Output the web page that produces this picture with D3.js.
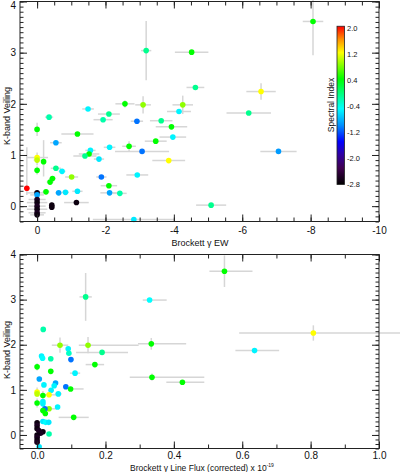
<!DOCTYPE html>
<html>
<head>
<meta charset="utf-8">
<script src="https://cdn.jsdelivr.net/npm/d3@7"></script>
<style>
body { margin: 0; background: #fff; }
svg { display: block; font-family: "Liberation Sans", Arial, sans-serif; }
</style>
</head>
<body>
<svg id="chart" width="400" height="472"></svg>
<script>
// ---- top panel: Brackett gamma EW vs veiling ----
// an error given as [a, b] means [towards smaller value, towards larger value]
const ewX = [-8.07, -3.19, -4.52, -4.63, -6.55, -2.57, -3.10, -4.26, -4.15, -1.49,
             -2.10, -6.19, -1.93, -0.35, -2.92, -3.63, 0.00, -3.93, -1.18, -3.97,
             -3.47, -0.55, -2.69, -2.12, -1.56, -1.52, -1.40, -3.07, -7.06, -1.81,
             0.00, 0.00, -0.19, -3.85, 0.00, -0.55, -0.73, -2.93, -1.01, -1.88,
             -0.45, -0.38, -2.10, 0.30, -0.26, -0.63, -0.83, -1.18, -2.12, -2.42,
             -5.09, -2.83, -1.15, -0.43, -0.43, 0.00, 0.00, 0.00, 0.00, 0.00,
             0.00, 0.00, 0.00];
const ewXErr = [0.30, 0.15, 0.49, 0.26, 0.43, 0.28, 0.23, 0.30, 0.35, 0.17,
                0.32, 0.65, 0.28, 0.12, 0.18, 0.33, 0, 0.46, 0.47, 0.39,
                0.32, 0.17, 0.20, 0.17, 0.15, 0.30, 0.34, 0.79, 0.53, 0.15,
                0.32, 0.10, 0, 0.48, 0, 0.15, 0.10, 0.32, 0.19, 0.15,
                0.10, 0.10, 0.24, 0, 0.10, 0.10, 0.10, 0.15, 0.27, 0.20,
                0.44, 1.20, 0.36, 0, 0, 0.30, 0.20, 0.25, 0.30, 0.25,
                0.30, 0.25, 0.20];
const ewVeil = [3.61, 3.04, 3.01, 2.32, 2.24, 2.00, 1.98, 1.98, 1.85, 1.90,
                1.80, 1.82, 1.69, 1.74, 1.66, 1.67, 1.50, 1.55, 1.41, 1.35,
                1.27, 1.24, 1.17, 1.15, 1.09, 1.02, 0.98, 1.07, 1.07, 0.92,
                0.95, 0.90, 0.87, 0.89, 0.70, 0.74, 0.68, 0.61, 0.57, 0.57,
                0.54, 0.47, 0.40, 0.35, 0.28, 0.26, 0.27, 0.29, 0.26, 0.25,
                0.02, -0.26, 0.07, 0.02, -0.02, 0.26, 0.22, 0.13, 0.07, 0.00,
                -0.06, -0.13, -0.17];
const ewVeilErr = [0.66, 0.58, 0, 0, 0.16, 0.07, 0.17, 0.18, 0, 0,
                   0, 0, 0, 0, 0, 0, 0.13, 0, 0, 0,
                   0, 0, 0.10, 0, 0, 0, 0, 0, 0, 0,
                   0.10, 0.10, [0.29, 0.42], 0, 0.08, 0, 0, 0, 0, 0,
                   0, 0, 0, [0.13, 0.80], 0, 0, 0, 0.05, 0, 0,
                   0, 0, 0, 0.06, 0, 0.05, 0, 0.05, 0.05, 0.05,
                   0.05, 0.05, 0.05];
const ewIndex = [0.4, -0.1, 0.4, -0.1, 1.2, 0.4, 0.85, 0.85, -0.55, -0.55,
                 -0.1, -0.1, -0.2, -0.2, -1.1, -0.1, 0.4, 0.4, 0.4, -0.55,
                 0.4, -0.9, 0.4, -0.55, -0.55, 0.4, -0.1, -1.1, -0.95, -0.6,
                 1.2, 1.0, 0.4, 1.2, 0.4, -0.1, -0.55, -0.55, 0.85, -1.1,
                 0.4, 0.4, 0.4, 2.0, 0.4, -0.9, -0.6, -0.6, -0.9, -0.2,
                 -0.1, -0.6, -2.7, -2.7, -2.7, -2.7, -0.9, -2.6, -2.7, -2.6,
                 -2.7, -2.6, -2.7];

// ---- bottom panel: Brackett gamma line flux vs veiling ----
const fluxX = [0.548, 0.142, 0.329, 0.018, 0.808, 0.067, 0.149, 0.334, 0.091, 0.093,
               0.190, 0.636, 0.013, 0.016, 0.040, 0.099, 0.169, 0.000, 0.040, 0.111,
               0.336, 0.425, 0.0065, 0.054, 0.050, 0.020, 0.084, 0.098, 0.041, 0.062,
               0.000, 0.000, 0.035, 0.017, 0.017, 0.017, 0.000, 0.060, 0.035, 0.023,
               0.017, 0.024, 0.107, 0.017, 0.025, 0.034, 0.035, 0.006, 0.000, 0.000,
               0.000, 0.005, 0.017, 0.010, 0.000, 0.000, 0.000, 0.000];
const fluxXErr = [[0.044, 0.082], 0.018, [0.020, 0.050], 0, [0.217, 0.27], 0.024, [0.027, 0.148], [0.039, 0.102], 0, 0,
                  0.076, [0.056, 0.072], 0, 0, 0, 0, 0.027, 0, 0, 0.015,
                  [0.065, 0.153], [0.047, 0.064], 0, 0, 0, 0, 0, [0.005, 0.038], 0, 0.010,
                  0, 0, 0.022, 0, 0, 0, 0, 0, 0.022, 0,
                  0, 0, 0.044, 0, 0, 0, 0, 0, 0, 0,
                  0, 0, 0, 0, 0, 0, 0, 0];
const fluxVeil = [3.63, 3.06, 2.99, 2.34, 2.26, 1.99, 1.99, 2.02, 1.91, 1.81,
                  1.83, 1.87, 1.75, 1.70, 1.69, 1.67, 1.56, 1.51, 1.41, 1.37,
                  1.28, 1.17, 1.24, 1.15, 1.09, 1.11, 1.07, 1.02, 0.99, 0.91,
                  0.95, 0.91, 0.89, 0.875, 0.74, 0.69, 0.71, 0.62, 0.58, 0.58,
                  0.54, 0.475, 0.39, 0.30, 0.28, 0.28, 0.02, -0.26, 0.27, 0.21,
                  0.14, 0.10, 0.07, 0.04, 0.00, -0.05, -0.11, -0.16];
const fluxVeilErr = [0.35, 0.53, 0, 0, 0.17, 0.17, 0.18, 0.13, 0, 0,
                     0, 0, 0, 0, 0, 0, 0, 0.08, 0, 0,
                     0.08, 0, 0, 0, 0, 0, 0, 0, 0, 0,
                     0.10, 0, 0, 0.10, 0, 0, 0.10, 0, 0, 0,
                     0, 0, 0, 0, 0, 0, 0, 0, 0.03, 0,
                     0, 0, 0, 0, 0, 0, 0, 0];
const fluxIndex = [0.4, -0.1, -0.5, -0.2, 1.2, 0.85, 0.85, 0.4, -0.55, -0.3,
                   -0.1, -0.55, -0.55, -0.5, -0.2, -1.1, 0.4, 0.4, 0.4, -0.55,
                   0.4, 0.4, -0.9, -0.9, -0.55, -0.55, -1.1, 0.4, -0.55, -0.55,
                   1.2, 1.0, 1.2, 0.4, -0.55, -0.55, 0.4, -0.55, 0.85, -1.1,
                   0.4, 0.4, 0.4, -0.6, -0.5, -0.6, -0.2, -0.6, -2.7, -2.6,
                   -2.7, -2.6, -2.7, -2.6, -2.7, -2.6, -2.7, -2.6];

// ---- colour bar ----
const indexStops = [-2.8, -2.3, -1.9, -1.5, -1.0, -0.5, 0.4, 1.2, 1.6, 2.0];
const indexColors = ["#000000", "#400050", "#3000a0", "#0000ff", "#0090ff",
                     "#00ffff", "#00ff00", "#ffff00", "#ff9000", "#ff0000"];
const indexTicks = [2.0, 1.2, 0.4, -0.4, -1.2, -2.0, -2.8];

const colorOf = d3.scaleLinear().domain(indexStops).range(indexColors)
    .interpolate(d3.interpolateRgb).clamp(true);

const svg = d3.select("#chart");
const AX = "#222";
const ERR = "#d6d6d6";

function pair(e) { return Array.isArray(e) ? e : [e, e]; }

function range(a, b, step) {
    const out = [];
    const n = Math.round((b - a) / step);
    for (let i = 0; i <= n; i++) out.push(+(a + i * step).toFixed(6));
    return out;
}

function drawPanel(p) {
    const x = p.x, y = p.y;
    const [x0, x1] = x.range();
    const [y0, y1] = y.range();
    const g = svg.append("g");

    // error bars first
    const eb = g.append("g").attr("stroke", ERR).attr("stroke-width", 1.5);
    p.xs.forEach((xv, i) => {
        const yv = p.ys[i];
        const [xl, xh] = pair(p.xErr[i]);
        const [yl, yh] = pair(p.yErr[i]);
        if (xl || xh)
            eb.append("line").attr("x1", x(xv - xl)).attr("x2", x(xv + xh))
                .attr("y1", y(yv)).attr("y2", y(yv));
        if (yl || yh)
            eb.append("line").attr("x1", x(xv)).attr("x2", x(xv))
                .attr("y1", y(yv - yl)).attr("y2", y(yv + yh));
    });

    g.append("g").selectAll("circle")
        .data(p.xs)
        .join("circle")
        .attr("cx", d => x(d))
        .attr("cy", (d, i) => y(p.ys[i]))
        .attr("r", 2.8)
        .attr("fill", (d, i) => colorOf(p.idx[i]));

    // axes, ticks inward on all four sides
    const axes = g.append("g").attr("color", AX).attr("font-size", 9)
        .attr("font-family", "Liberation Sans, Arial, sans-serif");
    const clean = s => s.call(a => a.select(".domain").remove());

    axes.append("g").attr("transform", `translate(0,${y0})`)
        .call(d3.axisBottom(x).tickValues(p.xMajor).tickSize(-7).tickSizeOuter(0)
            .tickPadding(p.xPad).tickFormat(p.xFmt)).call(clean);
    axes.append("g").attr("transform", `translate(0,${y0})`)
        .call(d3.axisBottom(x).tickValues(p.xMinor).tickSize(-4).tickSizeOuter(0)
            .tickFormat("")).call(clean);
    axes.append("g").attr("transform", `translate(0,${y1})`)
        .call(d3.axisTop(x).tickValues(p.xMajor).tickSize(-7).tickSizeOuter(0)
            .tickFormat("")).call(clean);
    axes.append("g").attr("transform", `translate(0,${y1})`)
        .call(d3.axisTop(x).tickValues(p.xMinor).tickSize(-4).tickSizeOuter(0)
            .tickFormat("")).call(clean);

    const yAx = axes.append("g").attr("transform", `translate(${x0},0)`)
        .call(d3.axisLeft(y).tickValues(p.yMajor).tickSize(-7).tickSizeOuter(0)
            .tickPadding(4).tickFormat(d3.format("d"))).call(clean);
    // keep the top label inside the picture
    yAx.selectAll("text").filter(d => y(d) < 5).attr("y", 5 - y.range()[1]);
    axes.append("g").attr("transform", `translate(${x0},0)`)
        .call(d3.axisLeft(y).tickValues(p.yMinor).tickSize(-3.5).tickSizeOuter(0)
            .tickFormat("")).call(clean);
    axes.append("g").attr("transform", `translate(${x1},0)`)
        .call(d3.axisRight(y).tickValues(p.yMajor).tickSize(-7).tickSizeOuter(0)
            .tickFormat("")).call(clean);
    axes.append("g").attr("transform", `translate(${x1},0)`)
        .call(d3.axisRight(y).tickValues(p.yMinor).tickSize(-3.5).tickSizeOuter(0)
            .tickFormat("")).call(clean);

    axes.selectAll("text").attr("fill", "#111");

    g.append("rect").attr("x", x0).attr("y", y1)
        .attr("width", x1 - x0).attr("height", y0 - y1)
        .attr("fill", "none").attr("stroke", AX).attr("stroke-width", 1);

    g.append("text")
        .attr("transform", `translate(7,${p.yLabelY}) rotate(-90)`)
        .attr("text-anchor", "middle").attr("dominant-baseline", "central")
        .attr("font-size", 9).attr("fill", "#111")
        .text("K-band Veiling");

    return g;
}

// top panel
const xEW = d3.scaleLinear().domain([0.5, -10]).range([20, 379]);
const yTop = d3.scaleLinear().domain([-0.3, 4]).range([221.5, 1.5]);
const ewPanel = drawPanel({
    x: xEW, y: yTop,
    xs: ewX, ys: ewVeil, xErr: ewXErr, yErr: ewVeilErr, idx: ewIndex,
    xMajor: [0, -2, -4, -6, -8, -10], xMinor: range(-10, 0, 0.5),
    xFmt: d => String(d), xPad: 5,
    yMajor: [0, 1, 2, 3, 4], yMinor: range(-0.3, 4, 0.1),
    yLabelY: 116
});
ewPanel.append("text").attr("x", 200).attr("y", 245.5)
    .attr("text-anchor", "middle").attr("font-size", 9).attr("fill", "#111")
    .text("Brockett \u03b3 EW");

// bottom panel
const xFlux = d3.scaleLinear().domain([-0.05, 1.0]).range([20, 379]);
const yBot = d3.scaleLinear().domain([-0.3, 4]).range([448.5, 254.5]);
const fluxPanel = drawPanel({
    x: xFlux, y: yBot,
    xs: fluxX, ys: fluxVeil, xErr: fluxXErr, yErr: fluxVeilErr, idx: fluxIndex,
    xMajor: [0, 0.2, 0.4, 0.6, 0.8, 1.0], xMinor: range(0, 1, 0.1),
    xFmt: d3.format(".1f"), xPad: 3,
    yMajor: [0, 1, 2, 3, 4], yMinor: range(-0.3, 4, 0.1),
    yLabelY: 350
});
const fluxTitle = fluxPanel.append("text").attr("x", 202).attr("y", 470.5)
    .attr("text-anchor", "middle").attr("font-size", 8.5).attr("fill", "#111");
fluxTitle.append("tspan").text("Brockett \u03b3 Line Flux (corrected) x 10");
fluxTitle.append("tspan").attr("font-size", 5).attr("dy", -3.5).text("-19");

// colour bar
const cbY = d3.scaleLinear().domain([-2.8, 2.0]).range([184, 28.5]);
const grad = svg.append("defs").append("linearGradient")
    .attr("id", "cbgrad").attr("x1", 0).attr("x2", 0).attr("y1", 1).attr("y2", 0);
grad.selectAll("stop").data(indexStops).join("stop")
    .attr("offset", d => (d + 2.8) / 4.8)
    .attr("stop-color", d => colorOf(d));

const cb = svg.append("g");
cb.append("rect").attr("x", 337).attr("y", cbY(2.07))
    .attr("width", 7.5).attr("height", cbY(-2.8) - cbY(2.07) + 0.5)
    .attr("fill", "url(#cbgrad)").attr("stroke", "#222").attr("stroke-width", 0.8);
cb.selectAll("text.cb").data(indexTicks).join("text")
    .attr("class", "cb")
    .attr("x", 347).attr("y", d => cbY(d))
    .attr("dominant-baseline", "central")
    .attr("font-size", 7.5).attr("fill", "#111")
    .text(d => d.toFixed(1));
cb.append("text")
    .attr("transform", `translate(331,105) rotate(-90)`)
    .attr("text-anchor", "middle").attr("dominant-baseline", "central")
    .attr("font-size", 8.5).attr("fill", "#111")
    .text("Spectral Index");
</script>
</body>
</html>
